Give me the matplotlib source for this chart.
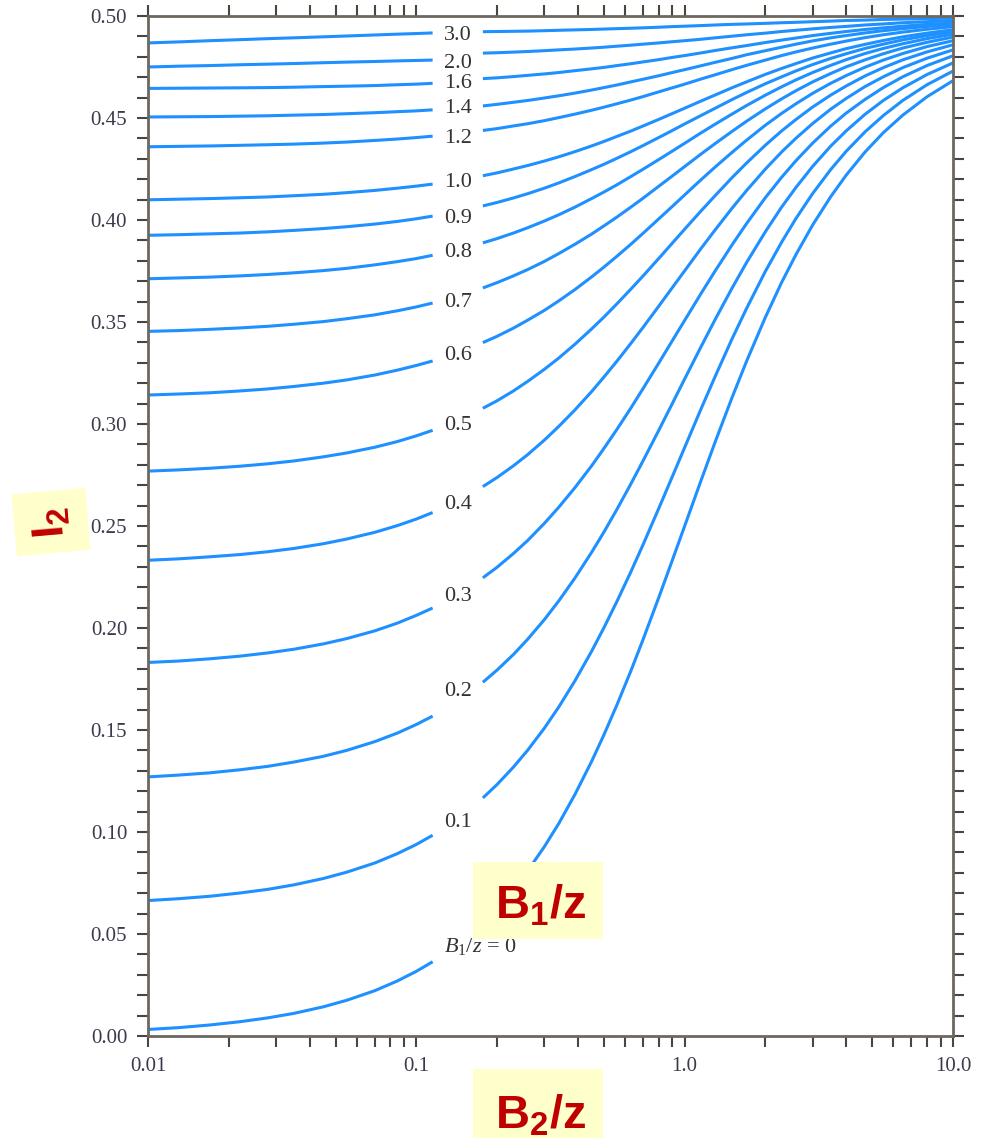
import numpy as np
import matplotlib
matplotlib.use("Agg")
import matplotlib.pyplot as plt
from matplotlib.patches import Rectangle
from matplotlib.transforms import offset_copy
from matplotlib.ticker import FixedLocator, LogLocator, NullFormatter, FixedFormatter, MultipleLocator

# ---------------- data ----------------
b1z_labels = ["0", "0.1", "0.2", "0.3", "0.4", "0.5", "0.6", "0.7", "0.8", "0.9",
              "1.0", "1.2", "1.4", "1.6", "2.0", "3.0"]

# B2/z sample positions (left of the label gap, right of the label gap)
x_left = [0.01, 0.013, 0.017, 0.022, 0.028, 0.035, 0.045, 0.055, 0.07, 0.085, 0.1, 0.115]
x_right = [0.177, 0.2, 0.23, 0.26, 0.3, 0.34, 0.39, 0.45, 0.5, 0.56, 0.63, 0.7, 0.8, 0.9,
           1.0, 1.15, 1.3, 1.5, 1.7, 2.0, 2.3, 2.6, 3.0, 3.5, 4.0, 4.7, 5.5, 6.5, 8.0, 10.0]

# I2 values in thousandths, one row per B1/z curve
i2_left_x1000 = [
    [3.2, 4.1, 5.4, 7.0, 8.9, 11.1, 14.3, 17.5, 22.2, 27.0, 31.7, 36.4],
    [66.4, 67.3, 68.5, 70.1, 71.9, 74.1, 77.2, 80.3, 84.8, 89.4, 93.9, 98.4],
    [127.0, 127.9, 129.0, 130.5, 132.2, 134.3, 137.1, 140.0, 144.3, 148.5, 152.7, 156.8],
    [183.1, 183.8, 184.9, 186.2, 187.8, 189.6, 192.2, 194.8, 198.6, 202.4, 206.2, 209.8],
    [233.2, 233.9, 234.9, 236.0, 237.4, 239.0, 241.3, 243.6, 246.9, 250.2, 253.4, 256.6],
    [276.9, 277.5, 278.3, 279.3, 280.5, 281.9, 283.9, 285.8, 288.6, 291.4, 294.2, 296.9],
    [314.2, 314.7, 315.3, 316.2, 317.2, 318.4, 320.0, 321.6, 324.0, 326.4, 328.7, 330.9],
    [345.4, 345.8, 346.4, 347.1, 347.9, 348.9, 350.2, 351.6, 353.5, 355.5, 357.4, 359.3],
    [371.2, 371.6, 372.0, 372.6, 373.3, 374.1, 375.2, 376.3, 378.0, 379.6, 381.1, 382.7],
    [392.5, 392.8, 393.2, 393.6, 394.2, 394.9, 395.8, 396.7, 398.0, 399.3, 400.6, 401.9],
    [409.9, 410.2, 410.5, 410.9, 411.3, 411.9, 412.6, 413.4, 414.5, 415.6, 416.6, 417.6],
    [435.9, 436.1, 436.3, 436.6, 436.9, 437.2, 437.7, 438.2, 439.0, 439.7, 440.4, 441.1],
    [450.5, 450.6, 450.7, 450.9, 451.1, 451.4, 451.7, 452.1, 452.6, 453.1, 453.5, 454.0],
    [464.5, 464.6, 464.7, 464.8, 464.9, 465.1, 465.4, 465.6, 465.9, 466.3, 466.6, 467.0],
    [475.0, 475.4, 475.7, 476.1, 476.4, 476.7, 477.1, 477.4, 477.7, 478.0, 478.2, 478.4],
    [486.8, 487.3, 487.9, 488.4, 488.9, 489.3, 489.8, 490.2, 490.7, 491.1, 491.4, 491.7],
]

i2_right_x1000 = [
    [55.8, 62.8, 72.0, 81.0, 92.8, 104.3, 118.4, 134.6, 147.6, 162.5, 178.9, 194.4, 214.8, 233.3, 250.0,
     272.2, 291.3, 312.8, 330.7, 352.4, 369.5, 383.1, 397.6, 411.4, 422.0, 433.3, 442.8, 451.4, 460.4, 468.3],
    [116.7, 123.3, 131.8, 140.1, 150.9, 161.4, 174.1, 188.6, 200.1, 213.2, 227.5, 240.9, 258.5, 274.3, 288.5,
     307.3, 323.4, 341.6, 356.6, 374.9, 389.2, 400.8, 413.0, 424.7, 433.7, 443.2, 451.2, 458.6, 466.3, 473.0],
    [173.4, 179.4, 187.0, 194.5, 204.1, 213.4, 224.5, 237.1, 247.0, 258.3, 270.6, 282.0, 296.8, 310.1, 322.1,
     337.8, 351.3, 366.5, 379.1, 394.3, 406.4, 416.0, 426.3, 436.2, 443.7, 451.8, 458.6, 464.8, 471.3, 477.0],
    [224.6, 229.8, 236.5, 242.9, 251.3, 259.3, 268.8, 279.5, 288.0, 297.5, 307.8, 317.4, 329.8, 340.9, 350.8,
     363.9, 375.1, 387.7, 398.2, 411.0, 421.0, 429.1, 437.7, 446.0, 452.4, 459.1, 464.9, 470.2, 475.7, 480.5],
    [269.3, 273.8, 279.5, 285.0, 292.1, 298.9, 306.9, 315.9, 323.0, 330.9, 339.5, 347.4, 357.7, 366.9, 375.1,
     386.0, 395.2, 405.7, 414.4, 425.0, 433.4, 440.1, 447.3, 454.3, 459.6, 465.4, 470.2, 474.7, 479.3, 483.4],
    [307.7, 311.4, 316.2, 320.9, 326.8, 332.4, 339.1, 346.6, 352.4, 359.0, 366.1, 372.6, 381.1, 388.7, 395.5,
     404.4, 412.0, 420.7, 427.9, 436.7, 443.7, 449.3, 455.4, 461.2, 465.7, 470.6, 474.7, 478.5, 482.4, 485.9],
    [339.9, 343.0, 347.0, 350.9, 355.7, 360.4, 365.9, 372.1, 376.9, 382.3, 388.1, 393.5, 400.5, 406.7, 412.3,
     419.7, 426.0, 433.1, 439.1, 446.5, 452.3, 457.0, 462.1, 467.0, 470.8, 474.9, 478.4, 481.6, 485.0, 487.9],
    [366.7, 369.3, 372.6, 375.7, 379.7, 383.6, 388.1, 393.1, 397.1, 401.5, 406.3, 410.7, 416.5, 421.6, 426.2,
     432.3, 437.5, 443.4, 448.4, 454.5, 459.4, 463.4, 467.7, 471.8, 475.1, 478.5, 481.5, 484.3, 487.1, 489.7],
    [388.8, 390.9, 393.6, 396.2, 399.5, 402.6, 406.3, 410.5, 413.7, 417.3, 421.3, 424.9, 429.6, 433.8, 437.6,
     442.7, 447.0, 451.9, 456.1, 461.2, 465.3, 468.7, 472.3, 475.8, 478.6, 481.6, 484.1, 486.4, 488.9, 491.1],
    [406.9, 408.6, 410.8, 412.9, 415.6, 418.2, 421.3, 424.7, 427.3, 430.3, 433.5, 436.5, 440.4, 443.9, 447.1,
     451.2, 454.8, 459.0, 462.5, 466.8, 470.2, 473.1, 476.2, 479.2, 481.5, 484.1, 486.2, 488.3, 490.4, 492.3],
    [421.7, 423.1, 425.0, 426.7, 428.9, 431.0, 433.5, 436.3, 438.5, 441.0, 443.6, 446.1, 449.3, 452.2, 454.8,
     458.3, 461.3, 464.8, 467.7, 471.4, 474.3, 476.7, 479.4, 481.9, 484.0, 486.1, 488.0, 489.8, 491.6, 493.3],
    [443.9, 444.8, 446.1, 447.2, 448.7, 450.2, 451.9, 453.8, 455.3, 457.0, 458.8, 460.5, 462.8, 464.8, 466.6,
     469.1, 471.2, 473.7, 475.8, 478.4, 480.6, 482.4, 484.3, 486.2, 487.7, 489.4, 490.8, 492.1, 493.5, 494.8],
    [455.9, 456.7, 457.7, 458.6, 459.8, 460.9, 462.2, 463.7, 464.9, 466.2, 467.7, 469.0, 470.7, 472.3, 473.7,
     475.6, 477.3, 479.2, 481.0, 483.0, 484.7, 486.2, 487.8, 489.3, 490.4, 491.7, 492.8, 493.8, 494.9, 495.9],
    [469.3, 469.7, 470.3, 470.9, 471.6, 472.3, 473.2, 474.1, 474.8, 475.7, 476.6, 477.5, 478.6, 479.7, 480.6,
     481.9, 483.1, 484.4, 485.5, 487.0, 488.2, 489.2, 490.4, 491.5, 492.4, 493.4, 494.2, 495.0, 495.9, 496.7],
    [481.8, 482.0, 482.3, 482.6, 483.0, 483.4, 483.8, 484.3, 484.7, 485.2, 485.7, 486.2, 486.8, 487.4, 487.9,
     488.6, 489.3, 490.1, 490.8, 491.6, 492.4, 493.0, 493.7, 494.4, 494.9, 495.6, 496.1, 496.7, 497.2, 497.8],
    [492.3, 492.4, 492.5, 492.6, 492.8, 493.0, 493.2, 493.4, 493.6, 493.8, 494.0, 494.2, 494.5, 494.8, 495.0,
     495.3, 495.6, 495.9, 496.1, 496.4, 496.7, 496.9, 497.2, 497.5, 497.8, 498.0, 498.3, 498.5, 498.7, 499.0],
]

y_major = [0.00, 0.05, 0.10, 0.15, 0.20, 0.25, 0.30, 0.35, 0.40, 0.45, 0.50]
y_labels = ["0.00", "0.05", "0.10", "0.15", "0.20", "0.25", "0.30", "0.35", "0.40", "0.45", "0.50"]
x_major = [0.01, 0.1, 1.0, 10.0]
x_labels = ["0.01", "0.1", "1.0", "10.0"]

# ---------------- layout / style ----------------
# vertical placement (I2 units) of each in-line curve label, same order as b1z_labels
label_y = [0.0446, 0.1059, 0.1701, 0.2167, 0.2618, 0.3005, 0.3348, 0.3608, 0.3853,
           0.4020, 0.4196, 0.4412, 0.4559, 0.4681, 0.4777, 0.4919]

plt.rcParams['mathtext.fontset'] = 'custom'
plt.rcParams['mathtext.rm'] = 'Liberation Serif'
plt.rcParams['mathtext.it'] = 'Liberation Serif:italic'
plt.rcParams['mathtext.bf'] = 'Liberation Sans:bold'

LINE = '#1e90ff'
SPINE = '#6e675e'
TICKC = '#4a4540'
LABELC = '#3a3a4c'
TXT = '#333333'
RED = '#c00000'
YEL = '#ffffcc'

fig = plt.figure(figsize=(9.85, 11.38), dpi=100)
ax = fig.add_axes([148/985, 1 - 1036/1138, (953-148)/985, (1036-16)/1138])
ax.set_xscale('log')
ax.set_xlim(0.01, 10.0)
ax.set_ylim(0.0, 0.5)

for yl, yr in zip(i2_left_x1000, i2_right_x1000):
    ax.plot(x_left, np.array(yl) / 1000.0, color=LINE, lw=2.2, solid_capstyle='butt',
            solid_joinstyle='round', zorder=2)
    ax.plot(x_right, np.array(yr) / 1000.0, color=LINE, lw=2.2, solid_capstyle='butt',
            solid_joinstyle='round', zorder=2)

# curve labels in the gaps (baseline placed 7 px below the visual centre)
lab_tr = offset_copy(ax.transData, fig=fig, x=0, y=-7.0, units='dots')
for lab, ly in zip(b1z_labels, label_y):
    if lab == "0":
        ax.text(0.127, ly, r"$B_1/z$ = 0", ha='left', va='baseline', transform=lab_tr,
                fontsize=16, color=TXT, family='Liberation Serif', zorder=3)
    else:
        ax.text(0.143, ly, lab, ha='center', va='baseline', transform=lab_tr,
                fontsize=16, color=TXT, family='Liberation Serif', zorder=3)

# axes styling
for s in ax.spines.values():
    s.set_color(SPINE)
    s.set_linewidth(2.0)
ax.xaxis.set_major_locator(FixedLocator(x_major))
ax.xaxis.set_major_formatter(FixedFormatter(x_labels))
ax.xaxis.set_minor_locator(LogLocator(base=10, subs=(2, 3, 4, 5, 6, 7, 8, 9)))
ax.xaxis.set_minor_formatter(NullFormatter())
ax.yaxis.set_major_locator(FixedLocator(y_major))
ax.yaxis.set_major_formatter(FixedFormatter(y_labels))
ax.yaxis.set_minor_locator(MultipleLocator(0.01))
ax.tick_params(which='both', direction='out', length=8, width=1.5, color=TICKC,
               top=True, right=True, labeltop=False, labelright=False)
ax.tick_params(which='major', labelsize=15, labelcolor=LABELC, pad=7)
for t in ax.get_xticklabels() + ax.get_yticklabels():
    t.set_family('Liberation Serif')

# yellow annotation boxes
fig.patches.append(Rectangle((473/985, 1 - 939/1138), 130/985, 77/1138,
                             transform=fig.transFigure, facecolor=YEL, edgecolor='none', zorder=5))
fig.text(495/985, 1 - 919/1138, r"$\mathbf{B_1/z}$", fontsize=34, color=RED,
         ha='left', va='baseline', zorder=6)
fig.patches.append(Rectangle((473/985, 0.0), 130/985, 69/1138,
                             transform=fig.transFigure, facecolor=YEL, edgecolor='none', zorder=5))
fig.text(495/985, 1 - 1128/1138, r"$\mathbf{B_2/z}$", fontsize=34, color=RED,
         ha='left', va='baseline', zorder=6)
fig.text(51/985, 1 - 522/1138, r"$\mathbf{I_2}$", fontsize=32, color=RED,
         rotation=95, rotation_mode='anchor', ha='center', va='center', zorder=6,
         bbox=dict(boxstyle='square,pad=0.35', facecolor=YEL, edgecolor='none'))

fig.savefig("out.png", dpi=100)
